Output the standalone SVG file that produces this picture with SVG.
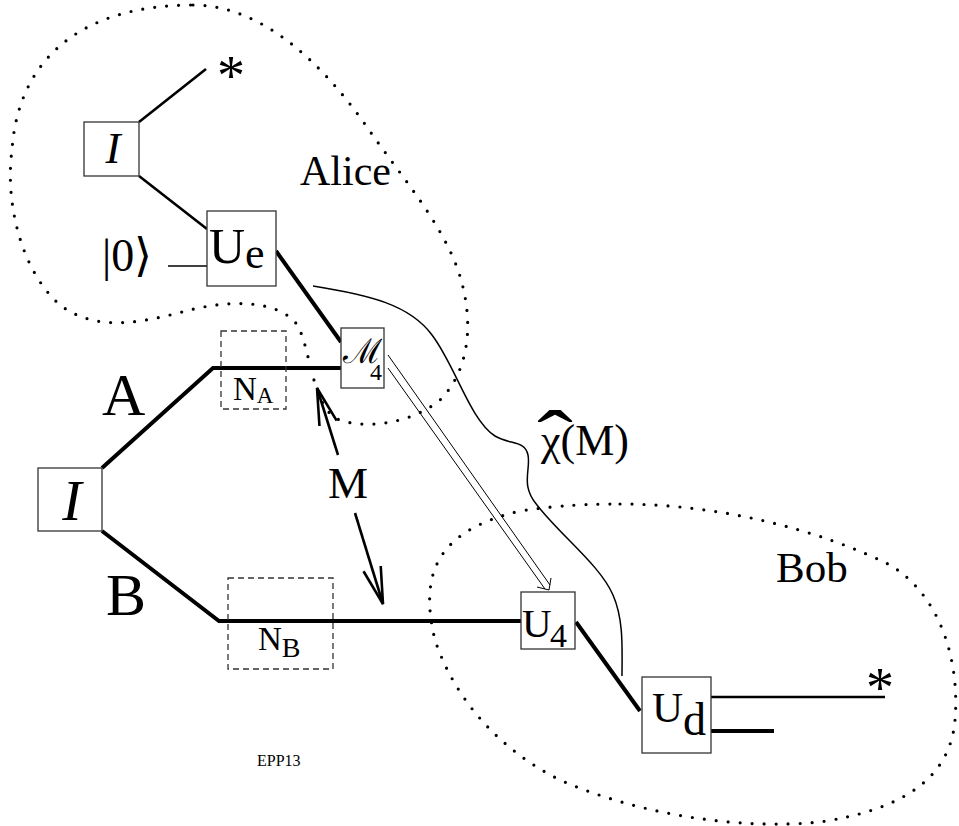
<svg xmlns="http://www.w3.org/2000/svg" width="959" height="826" viewBox="0 0 959 826">
<style>
  text { font-family: "Liberation Serif", "Times New Roman", serif; fill: #000; }
  .box { fill: #fff; stroke: #333; stroke-width: 1.3; }
  .nbox { fill: none; stroke: #333; stroke-width: 1.3; stroke-dasharray: 6 4; }
  .dots { fill: none; stroke: #000; stroke-width: 3.2; stroke-dasharray: 0 12; stroke-linecap: round; }
  .thick { fill: none; stroke: #000; stroke-width: 4; }
  .mid { fill: none; stroke: #000; stroke-width: 2.6; }
  .thin { fill: none; stroke: #000; stroke-width: 1.5; }
  .hair { fill: none; stroke: #000; stroke-width: 1; }
  .arr { fill: none; stroke: #000; stroke-width: 2.6; }
</style>
<defs>
  <marker id="vhead" markerUnits="userSpaceOnUse" viewBox="-40 -12 44 24" refX="0" refY="0" markerWidth="44" markerHeight="24" orient="auto">
    <path d="M-37,-9 L0,0 L-37,9" fill="none" stroke="#000" stroke-width="2.6"/>
  </marker>
</defs>
<rect width="959" height="826" fill="#fff"/>

<g id="regions">
  <path id="alice-region" class="dots" d="M193,5 C260,5 320,60 367,127 C400,175 440,220 458,270 C475,320 470,370 440,400 C410,425 360,430 335,418 C310,400 310,340 295,322 C275,300 230,300 190,310 C150,320 100,335 60,305 C20,270 5,200 12,150 C18,60 80,5 193,5 Z"/>
  <path id="bob-region" class="dots" d="M620,504 C720,504 820,530 890,565 C940,595 960,660 955,720 C950,780 900,810 820,822 C740,830 640,815 560,780 C500,750 455,700 435,640 C418,570 440,530 520,511 C560,505 590,504 620,504 Z"/>
</g>

<g id="connectors">
  <line class="mid" x1="139" y1="122" x2="206" y2="69"/>
  <line class="mid" x1="139" y1="176" x2="207" y2="229"/>
  <line class="thin" x1="168" y1="266" x2="207" y2="266"/>
  <line class="thick" x1="276" y1="251" x2="341" y2="342"/>
  <polyline class="thick" points="102,468 213,368 341,368"/>
  <polyline class="thick" points="102,531 219,621 521,621"/>
  <line class="thick" x1="576" y1="622" x2="640" y2="711"/>
  <line class="mid" x1="711" y1="697" x2="885" y2="697"/>
  <line class="thick" x1="711" y1="731" x2="774" y2="731" stroke-width="4.5"/>
  <path class="thin" d="M313,286 C370,295 410,305 432,335 C455,365 470,420 495,436 C510,445 525,440 528,455 C531,470 520,485 537,505 C560,535 600,565 613,595 C624,620 622,650 622,676"/>
  <line class="arr" x1="338" y1="455" x2="317" y2="388" marker-end="url(#vhead)"/>
  <line class="arr" x1="355" y1="513" x2="383" y2="604" marker-end="url(#vhead)"/>
  <g id="classical-channel">
    <line class="hair" x1="388" y1="355" x2="550" y2="585"/>
    <line class="hair" x1="388" y1="368" x2="545" y2="589"/>
    <polyline class="hair" points="551,578 549,590 537,587"/>
  </g>
</g>

<g id="node-I-top">
  <rect class="box" x="84" y="122" width="55" height="54"/>
  <text x="113" y="163" font-size="45" font-style="italic" text-anchor="middle">I</text>
</g>
<g id="star-top">
  <text x="231" y="95" font-size="56" text-anchor="middle">*</text>
</g>
<g id="node-Ue">
  <rect class="box" x="207" y="211" width="69" height="75"/>
  <text x="209" y="263" font-size="50">U<tspan font-size="44" dy="5">e</tspan></text>
</g>
<g id="ket0">
  <text x="102" y="271" font-size="46">|0⟩</text>
</g>
<g id="node-M4">
  <rect class="box" x="341" y="328" width="43" height="60"/>
  <text x="343" y="363" font-size="34" font-family="DejaVu Sans, sans-serif">ℳ</text>
  <text x="370" y="380" font-size="24">4</text>
</g>
<g id="node-I-source">
  <rect class="box" x="38" y="468" width="64" height="63"/>
  <text x="72" y="520" font-size="58" font-style="italic" text-anchor="middle">I</text>
</g>
<g id="node-NA">
  <rect class="nbox" x="221" y="331" width="65" height="78"/>
  <text x="233" y="400" font-size="33">N<tspan font-size="23" dy="3">A</tspan></text>
</g>
<g id="node-NB">
  <rect class="nbox" x="228" y="578" width="105" height="91"/>
  <text x="258" y="650" font-size="33">N<tspan font-size="28" dy="7">B</tspan></text>
</g>
<g id="node-U4">
  <rect class="box" x="521" y="592" width="54" height="57"/>
  <text x="522" y="637" font-size="41">U<tspan font-size="34" x="550" y="647">4</tspan></text>
</g>
<g id="node-Ud">
  <rect class="box" x="642" y="677" width="69" height="76"/>
  <text x="652" y="722" font-size="43">U<tspan font-size="46" x="683" y="735">d</tspan></text>
</g>
<g id="star-bottom">
  <text x="880" y="707" font-size="56" text-anchor="middle">*</text>
</g>

<g id="labels">
  <text x="300" y="185" font-size="42">Alice</text>
  <text x="776" y="582" font-size="43">Bob</text>
  <text x="102" y="415" font-size="60">A</text>
  <text x="106" y="615" font-size="60">B</text>
  <text x="348" y="498" font-size="45" text-anchor="middle">M</text>
  <text font-size="80" text-anchor="middle" transform="translate(555,466) scale(1.35,1)">ˆ</text>
  <text x="541" y="455" font-size="44">χ(M)</text>
  <text x="257" y="766" font-size="16">EPP13</text>
</g>
</svg>
